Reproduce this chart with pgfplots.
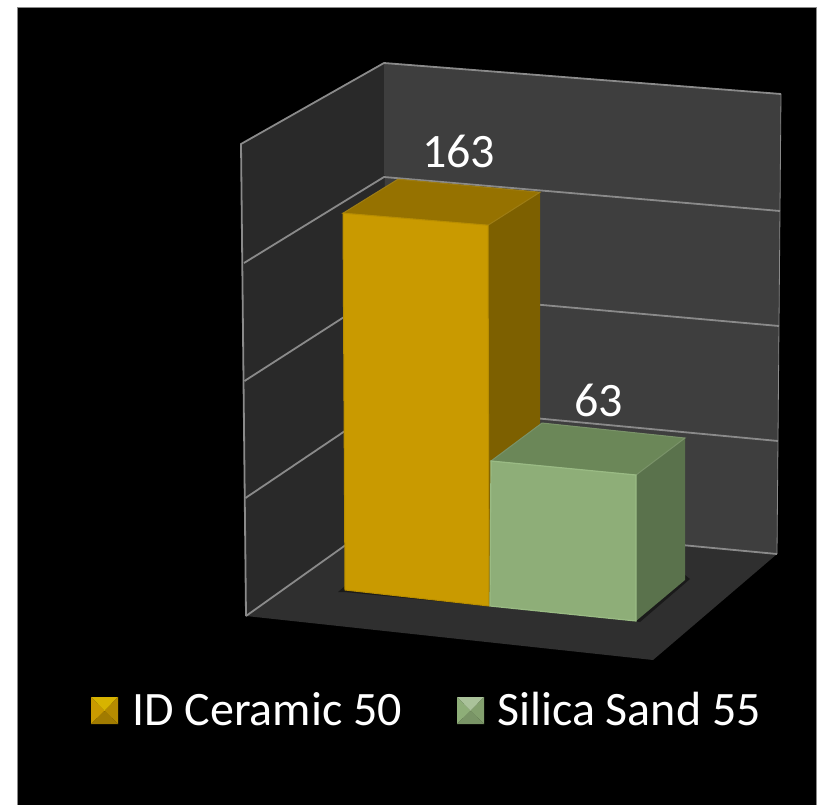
\documentclass[border=0pt]{standalone}
\usepackage{pgfplots}
\pgfplotsset{compat=1.18}
\usepackage{fontspec}
\setmainfont{Carlito}
\definecolor{backwall}{HTML}{3E3E3E}
\definecolor{sidewall}{HTML}{292929}
\definecolor{floorc}{HTML}{2F2F2F}
\definecolor{gridc}{HTML}{8A8A8A}
\definecolor{goldF}{HTML}{C99A00}
\definecolor{goldT}{HTML}{967200}
\definecolor{goldS}{HTML}{7D6000}
\definecolor{goldE}{HTML}{B88D00}
\definecolor{greenF}{HTML}{8EAE78}
\definecolor{greenT}{HTML}{6B8758}
\definecolor{greenS}{HTML}{5A724C}
\definecolor{greenE}{HTML}{9ABB84}
% y position of a bar corner: its floor level minus the value at 2.33 units per point
\pgfplotsset{bar face/.style={table/x=x,table/y expr=\thisrow{base}-2.33*\thisrow{val}}}
\begin{document}
\begin{tikzpicture}
\begin{axis}[
  scale only axis, width=817pt, height=804pt,
  xmin=0, xmax=817, ymin=0, ymax=804, y dir=reverse,
  hide axis, clip=true,
]
% page and black plate
\addplot[fill=white,draw=none] coordinates {(0,0)(817,0)(817,804)(0,804)} -- cycle;
\addplot[fill=black,draw=gridc,line width=0.8pt] coordinates {(17.5,7.5)(816.5,7.5)(816.5,806)(17.5,806)} -- cycle;
% walls and floor
\addplot[fill=sidewall,draw=none] coordinates {(241,144)(384,63)(385,517)(246,616)} -- cycle;
\addplot[fill=backwall,draw=none] coordinates {(384,63)(781,94)(777,554)(385,517)} -- cycle;
\addplot[fill=floorc,draw=none] coordinates {(246,616)(385,517)(777,554)(653,660)} -- cycle;
% frame and gridlines
\addplot[draw=gridc,line width=1.8pt] coordinates {(246,616)(241,144)(384,63)(781,94)};
\addplot[draw=gridc,line width=0.8pt] coordinates {(781,94)(777,554)};
\addplot[draw=gridc,line width=1.8pt] coordinates {(244,263)(384,177)(780,211)};
\addplot[draw=gridc,line width=1.8pt] coordinates {(244.5,381)(384.5,291)(779,326)};
\addplot[draw=gridc,line width=1.8pt] coordinates {(245.5,498)(385,404)(778,441)};
\addplot[draw=gridc,line width=1.8pt] coordinates {(246,616)(385,517)(777,554)};
% contact shadows on the floor
\addplot[fill=black!75!floorc,draw=none,opacity=.6] coordinates {(338,592)(345,586)(489,606)(640,622)(690,579)(685,575)(636,621)(345,592)} -- cycle;
% ID Ceramic 50
\addplot[fill=goldS,draw=none,bar face] table {
x base val
488 605 163
540 572 163
540 560 0
489 606 0
} -- cycle;
\addplot[fill=goldT,draw=goldT!92!white,line width=1pt,bar face] table {
x base val
343 593 163
398 559 163
540 572 163
488 605 163
} -- cycle;
\addplot[fill=goldF,draw=goldE,line width=1pt,bar face] table {
x base val
345 590 0
343 593 163
488 605 163
489 606 0
} -- cycle;
% Silica Sand 55
\addplot[fill=greenS,draw=none,bar face] table {
x base val
636 621.8 63
685 584.8 63
685 580 0
636 621 0
} -- cycle;
\addplot[fill=greenT,draw=greenT!90!white,line width=1pt,bar face] table {
x base val
491 607.8 63
542 569.8 63
685 584.8 63
636 621.8 63
} -- cycle;
\addplot[fill=greenF,draw=greenE,line width=1.2pt,bar face] table {
x base val
490 606 0
491 607.8 63
636 621.8 63
636 621 0
} -- cycle;
% legend keys, bevelled on four sides
\addplot[fill=goldF!75!yellow,draw=none] coordinates {(91,697)(118,697)(104.5,711)} -- cycle;
\addplot[fill=goldF,draw=none] coordinates {(91,697)(104.5,711)(91,724)} -- cycle;
\addplot[fill=goldF!90!black,draw=none] coordinates {(118,697)(104.5,711)(118,724)} -- cycle;
\addplot[fill=goldF!80!black,draw=none] coordinates {(91,724)(104.5,711)(118,724)} -- cycle;
\addplot[fill=greenF!75!white,draw=none] coordinates {(457,697)(484,697)(470.5,711)} -- cycle;
\addplot[fill=greenF,draw=none] coordinates {(457,697)(470.5,711)(457,724)} -- cycle;
\addplot[fill=greenF!92!black,draw=none] coordinates {(484,697)(470.5,711)(484,724)} -- cycle;
\addplot[fill=greenF!85!black,draw=none] coordinates {(457,724)(470.5,711)(484,724)} -- cycle;
% value labels and legend text
\node[text=white,inner sep=0pt] at (axis cs:458.5,151) {\fontsize{48}{56}\selectfont 163};
\node[text=white,inner sep=0pt] at (axis cs:598.5,400) {\fontsize{48}{56}\selectfont 63};
\node[text=white,inner sep=0pt,anchor=base west] at (axis cs:132,725) {\fontsize{48}{56}\selectfont ID Ceramic 50};
\node[text=white,inner sep=0pt,anchor=base west] at (axis cs:497,725) {\fontsize{48}{56}\selectfont Silica Sand 55};
\end{axis}
\end{tikzpicture}
\end{document}
